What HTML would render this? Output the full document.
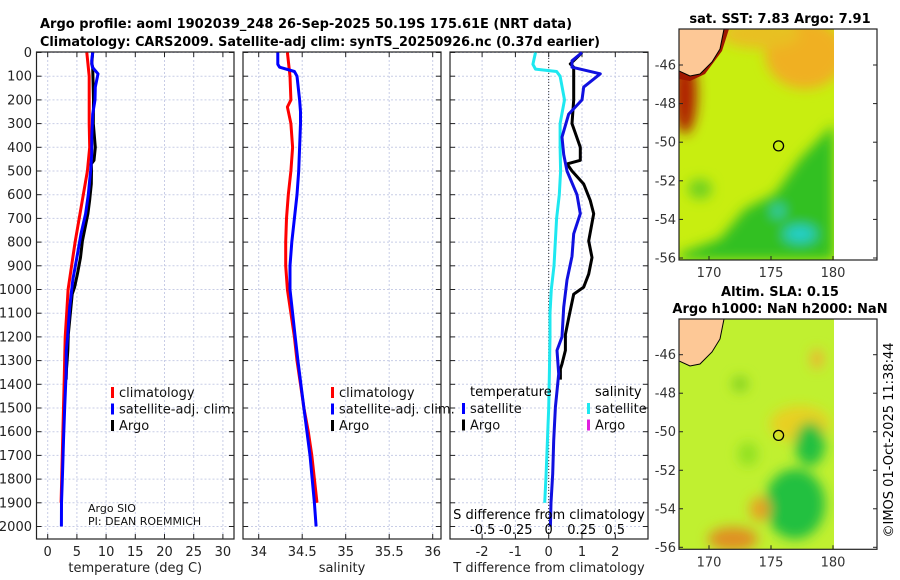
<!DOCTYPE html>
<html><head><meta charset="utf-8"><style>
body{margin:0;background:#fff;}
svg{display:block;font-family:"DejaVu Sans","Liberation Sans",sans-serif;}
</style></head><body>
<svg id="fig" width="900" height="580" viewBox="0 0 900 580">
<g font-weight="bold" font-size="13">
<text x="40" y="28" textLength="532" lengthAdjust="spacingAndGlyphs">Argo profile: aoml 1902039_248 26-Sep-2025 50.19S 175.61E (NRT data)</text>
<text x="40" y="46" textLength="560" lengthAdjust="spacingAndGlyphs">Climatology: CARS2009. Satellite-adj clim: synTS_20250926.nc (0.37d earlier)</text>
</g>
<g id="maps"></g>
<g id="panels"></g>
<text transform="translate(893,440) rotate(-90)" text-anchor="middle" font-size="13">©IMOS 01-Oct-2025 11:38:44</text>
</svg>
<script>
// ---- data ----
const climDepth = [0,100,200,300,400,500,600,700,800,900,1000,1100,1200,1400,1600,1800,1900];
const climT = [6.7,7.1,7.1,7.1,7.2,6.8,6.1,5.4,4.7,4.1,3.5,3.25,3.0,2.8,2.6,2.4,2.3];
const satDiffDepth = [0,35,62,90,146,200,260,357,430,500,600,680,765,860,960,1075,1200,1257,1356,1496,1637,1778,1900,2000];
const satDiffT = [1.0,0.7,0.7,1.55,1.05,1.0,0.6,0.4,0.45,0.55,0.85,0.95,0.75,0.7,0.55,0.45,0.4,0.25,0.3,0.2,0.15,0.12,0.07,0.05];
const argoDiffDepth = [0,48,62,200,300,400,455,470,500,555,625,680,795,865,935,990,1020,1120,1190,1257,1314,1335,1380];
const argoDiffT = [1.0,0.65,0.75,0.75,0.7,0.95,0.95,0.55,0.7,1.05,1.25,1.35,1.2,1.3,1.2,1.05,0.75,0.6,0.5,0.5,0.4,0.35,0.35];
const climSDepth = [0,100,200,230,300,400,500,600,700,800,900,1000,1100,1200,1300,1400,1500,1600,1700,1800,1900];
const climS = [34.33,34.36,34.37,34.33,34.37,34.39,34.37,34.34,34.32,34.31,34.31,34.33,34.37,34.41,34.44,34.48,34.52,34.57,34.61,34.64,34.67];
const satSDepth = [0,50,62,80,100,200,250,300,400,500,600,700,800,900,1000,1100,1200,1300,1500,1700,1900,2000];
const satS = [34.22,34.22,34.24,34.41,34.44,34.47,34.48,34.48,34.47,34.46,34.44,34.41,34.38,34.36,34.36,34.39,34.42,34.45,34.52,34.59,34.64,34.66];
const satDiffSDepth = [0,50,70,80,100,200,300,400,500,600,700,800,900,1000,1100,1200,1350,1500,1640,1780,1900];
const satDiffS = [-0.10,-0.12,-0.10,0.06,0.086,0.12,0.086,0.086,0.09,0.08,0.06,0.05,0.04,0.02,0.01,0.01,0.005,0.0,-0.01,-0.02,-0.03];
const depthTicks = [0,100,200,300,400,500,600,700,800,900,1000,1100,1200,1300,1400,1500,1600,1700,1800,1900,2000];
const tempTicks = [0,5,10,15,20,25,30];
const salTicks = [34,34.5,35,35.5,36];
const salTickLabels = ["34","34.5","35","35.5","36"];
const tdTicks = [-2,-1,0,1,2];
const sdTicks = [-0.5,-0.25,0,0.25,0.5];
const sdTickLabels = ["-0.5","-0.25","0","0.25","0.5"];
const lonTicks = [170,175,180];
const latTicks = [-46,-48,-50,-52,-54,-56];
const floatLon = 175.61, floatLat = -50.19;

const NS="http://www.w3.org/2000/svg";
function mk(tag,attrs,parent){const e=document.createElementNS(NS,tag);for(const k in attrs)e.setAttribute(k,attrs[k]);if(parent)parent.appendChild(e);return e;}
function interp(xs,ys,x){if(x<=xs[0])return ys[0];for(let i=1;i<xs.length;i++){if(x<=xs[i]){const t=(x-xs[i-1])/(xs[i]-xs[i-1]);return ys[i-1]+t*(ys[i]-ys[i-1]);}}return ys[ys.length-1];}
const yD = d => 52.5 + d*0.237;
const PTOP=52, PBOT=539;
const panels=document.getElementById('panels');

function drawFrame(x0,x1,xTicks,xf,labels,title,name){
  const g=mk('g',{},panels);
  
  
  depthTicks.forEach(d=>{const l=mk('line',{x1:x0,x2:x1,y1:yD(d),y2:yD(d),stroke:'#c8cde6','stroke-width':1,'stroke-dasharray':'2,2'},g);
    
    mk('line',{x1:x0,x2:x0+5,y1:yD(d),y2:yD(d),stroke:'#222'},g);mk('line',{x1:x1-5,x2:x1,y1:yD(d),y2:yD(d),stroke:'#222'},g);});
  xTicks.forEach((v,i)=>{const x=xf(v);const l=mk('line',{x1:x,x2:x,y1:PTOP,y2:PBOT,stroke:'#c8cde6','stroke-width':1,'stroke-dasharray':'2,2'},g);
    
    mk('line',{x1:x,x2:x,y1:PBOT-5,y2:PBOT,stroke:'#222'},g);mk('line',{x1:x,x2:x,y1:PTOP,y2:PTOP+5,stroke:'#222'},g);
    const t=mk('text',{x:x,y:556,'text-anchor':'middle','font-size':13,fill:'#222'},g);t.textContent=labels[i];
    });
  const r=mk('rect',{x:x0,y:PTOP,width:x1-x0,height:PBOT-PTOP,fill:'none',stroke:'#222','stroke-width':1.2},g);
  
  const tt=mk('text',{x:(x0+x1)/2,y:572,'text-anchor':'middle','font-size':13,fill:'#222'},g);tt.textContent=title;
  
  return g;
}
function drawLine(g,ds,vs,xf,color,name,w){
  const pts=ds.map((d,i)=>xf(vs[i]).toFixed(1)+','+yD(d).toFixed(1)).join(' ');
  const p=mk('polyline',{points:pts,fill:'none',stroke:color,'stroke-width':w||3,'stroke-linejoin':'round'},g);
  
}
function drawLegend(g,x,y,items){
  items.forEach((it,i)=>{
    mk('rect',{x:x,y:y+i*16.5-10,width:3,height:11,fill:it[1]},g);
    const t=mk('text',{x:x+8,y:y+i*16.5,'font-size':13,fill:'#111'},g);t.textContent=it[0];
    
  });
}
depthTicks.forEach(d=>{const t=mk('text',{x:32,y:yD(d)+4.5,'text-anchor':'end','font-size':13,fill:'#222'},panels);t.textContent=d;
  });

// panel 1 temperature
const xT=v=>47.7+v*5.84;
const g1=drawFrame(36.5,234,tempTicks,xT,tempTicks.map(String),'temperature (deg C)','temperature-panel');
const argoT=argoDiffDepth.map((d,i)=>interp(climDepth,climT,d)+argoDiffT[i]);
const satT=satDiffDepth.map((d,i)=>interp(climDepth,climT,d)+satDiffT[i]);
drawLine(g1,argoDiffDepth,argoT,xT,'#000','argo-temperature-line');
drawLine(g1,climDepth,climT,xT,'#f00','climatology-temperature-line');
drawLine(g1,satDiffDepth,satT,xT,'#00f','satellite-temperature-line');
drawLegend(g1,111,397,[['climatology','#f00'],['satellite-adj. clim.','#00f'],['Argo','#000']]);
let tx1=mk('text',{x:88,y:512,'font-size':11,fill:'#111'},g1);tx1.textContent='Argo SIO';

tx1=mk('text',{x:88,y:525,'font-size':11,fill:'#111'},g1);tx1.textContent='PI: DEAN ROEMMICH';


// panel 2 salinity
const xS=v=>258.7+(v-34)*87;
const g2=drawFrame(243,441,salTicks,xS,salTickLabels,'salinity','salinity-panel');
drawLine(g2,climSDepth,climS,xS,'#f00','climatology-salinity-line');
drawLine(g2,satSDepth,satS,xS,'#00f','satellite-salinity-line');
drawLegend(g2,331,397,[['climatology','#f00'],['satellite-adj. clim.','#00f'],['Argo','#000']]);

// panel 3 differences
const xTD=v=>548.7+v*33.3;
const xSD=v=>548.7+v*132;
const g3=drawFrame(450,648,tdTicks,xTD,tdTicks.map(String),'T difference from climatology','difference-panel');
const z=mk('line',{x1:xTD(0),x2:xTD(0),y1:PTOP,y2:PBOT,stroke:'#333','stroke-dasharray':'1,2'},g3);

drawLine(g3,satDiffSDepth,satDiffS,xSD,'#1ee8f0','satellite-salinity-diff-line');
drawLine(g3,argoDiffDepth,argoDiffT,xTD,'#000','argo-temperature-diff-line');
drawLine(g3,satDiffDepth,satDiffT,xTD,'#1010e0','satellite-temperature-diff-line');
let tx3=mk('text',{x:470,y:396,'font-size':13},g3);tx3.textContent='temperature';
tx3=mk('text',{x:595,y:396,'font-size':13},g3);tx3.textContent='salinity';
drawLegend(g3,462,413,[['satellite','#00f'],['Argo','#000']]);
drawLegend(g3,587,413,[['satellite','#1ee8f0'],['Argo','#e020e0']]);
tx3=mk('text',{x:549,y:519,'text-anchor':'middle','font-size':13},g3);tx3.textContent='S difference from climatology';

sdTicks.forEach((v,i)=>{const tx=mk('text',{x:xSD(v),y:534,'text-anchor':'middle','font-size':13},g3);tx.textContent=sdTickLabels[i];
  });

// ---- maps ----
const mapsG=document.getElementById('maps');
function drawMap(topY,lat46,lat56,titles,kind,name){
  const g=mk('g',{},mapsG);
  const lx=v=>709+(v-170)*12.4, ly=v=>lat46+(-46-v)/10*(lat56-lat46);
  const L=679,R=834,B=lat56+2,T=topY;
  const cid='clip'+name;
  const cp=mk('clipPath',{id:cid},g);mk('rect',{x:L,y:T,width:R-L,height:B-T},cp);
  const fid='blur'+name;const f=mk('filter',{id:fid,x:'-50%',y:'-50%',width:'200%',height:'200%'},g);mk('feGaussianBlur',{stdDeviation:6},f);
  const c=mk('g',{'clip-path':'url(#'+cid+')'},g);
  const H=B-T;
  if(kind==='sst'){
    mk('rect',{x:L,y:T,width:R-L,height:H,fill:'#c8ee10'},c);
    const b=mk('g',{filter:'url(#'+fid+')'},c);
    mk('ellipse',{cx:805,cy:T+25,rx:40,ry:35,fill:'#f0b020'},b);
    mk('ellipse',{cx:760,cy:T+5,rx:40,ry:15,fill:'#e8c020'},b);
    mk('ellipse',{cx:685,cy:T+65,rx:12,ry:40,fill:'#b02000'},b);
    mk('polygon',{points:`834,${T+95} 834,${B} 679,${B} 679,${T+225} 720,${T+210} 745,${T+180} 775,${T+165} 800,${T+130}`,fill:'#30c020'},b);
    mk('ellipse',{cx:800,cy:T+205,rx:16,ry:8,fill:'#20d0d0'},b);
    mk('ellipse',{cx:778,cy:T+182,rx:6,ry:6,fill:'#30d0c0'},b);
    mk('ellipse',{cx:700,cy:T+160,rx:12,ry:10,fill:'#70d020'},b);
    mk('polygon',{points:`679,${T} 729,${T} 722,${T+22} 705,${T+45} 690,${T+52} 679,${T+50}`,fill:'#a01800'},c);
  } else {
    mk('rect',{x:L,y:T,width:R-L,height:H,fill:'#c0f030'},c);
    const b=mk('g',{filter:'url(#'+fid+')'},c);
    mk('ellipse',{cx:800,cy:T+105,rx:30,ry:18,fill:'#e8d020'},b);
    mk('ellipse',{cx:733,cy:T+220,rx:25,ry:12,fill:'#e09020'},b);
    mk('ellipse',{cx:795,cy:T+185,rx:30,ry:35,fill:'#20c040'},b);
    mk('ellipse',{cx:810,cy:T+125,rx:15,ry:22,fill:'#20c040'},b);
    mk('ellipse',{cx:760,cy:T+190,rx:10,ry:12,fill:'#e8a020'},b);
    mk('ellipse',{cx:748,cy:T+135,rx:10,ry:12,fill:'#90e020'},b);
    mk('ellipse',{cx:740,cy:T+65,rx:8,ry:8,fill:'#80d020'},b);
    mk('ellipse',{cx:817,cy:T+40,rx:6,ry:10,fill:'#f0b030'},b);
  }
  mk('polygon',{points:`679,${T} 724,${T} 720,${T+20} 712,${T+33} 700,${T+45} 690,${T+47} 679,${T+42}`,fill:'#fdc896',stroke:'#000','stroke-width':1},c);
  mk('rect',{x:R,y:T,width:877-R,height:B-T,fill:'#fff'},g);
  const fr=mk('rect',{x:L,y:T,width:877-L,height:B-T,fill:'none',stroke:'#222','stroke-width':1.2},g);
  
  latTicks.forEach(v=>{const y=ly(v);mk('line',{x1:L,x2:L+4,y1:y,y2:y,stroke:'#222'},g);mk('line',{x1:873,x2:877,y1:y,y2:y,stroke:'#222'},g);
    const tx=mk('text',{x:676,y:y+4.5,'text-anchor':'end','font-size':13,fill:'#333'},g);tx.textContent=v;
    });
  lonTicks.forEach(v=>{const x=lx(v);mk('line',{x1:x,x2:x,y1:B-4,y2:B,stroke:'#222'},g);
    const tx=mk('text',{x:x,y:B+17,'text-anchor':'middle','font-size':13,fill:'#333'},g);tx.textContent=v;
    });
  const ci=mk('circle',{cx:lx(floatLon),cy:ly(floatLat),r:5,fill:'none',stroke:'#000','stroke-width':1.3},g);
  
  titles.forEach((s,i)=>{const tx=mk('text',{x:780,y:topY-6-(titles.length-1-i)*17,'text-anchor':'middle','font-size':13,'font-weight':'bold'},g);tx.textContent=s;
    });
}
drawMap(29,65,258,['sat. SST: 7.83 Argo: 7.91'],'sst','sst-map');
drawMap(319,354.7,547.3,['Altim. SLA: 0.15','Argo h1000: NaN h2000: NaN'],'sla','sla-map');
</script>
</body></html>
